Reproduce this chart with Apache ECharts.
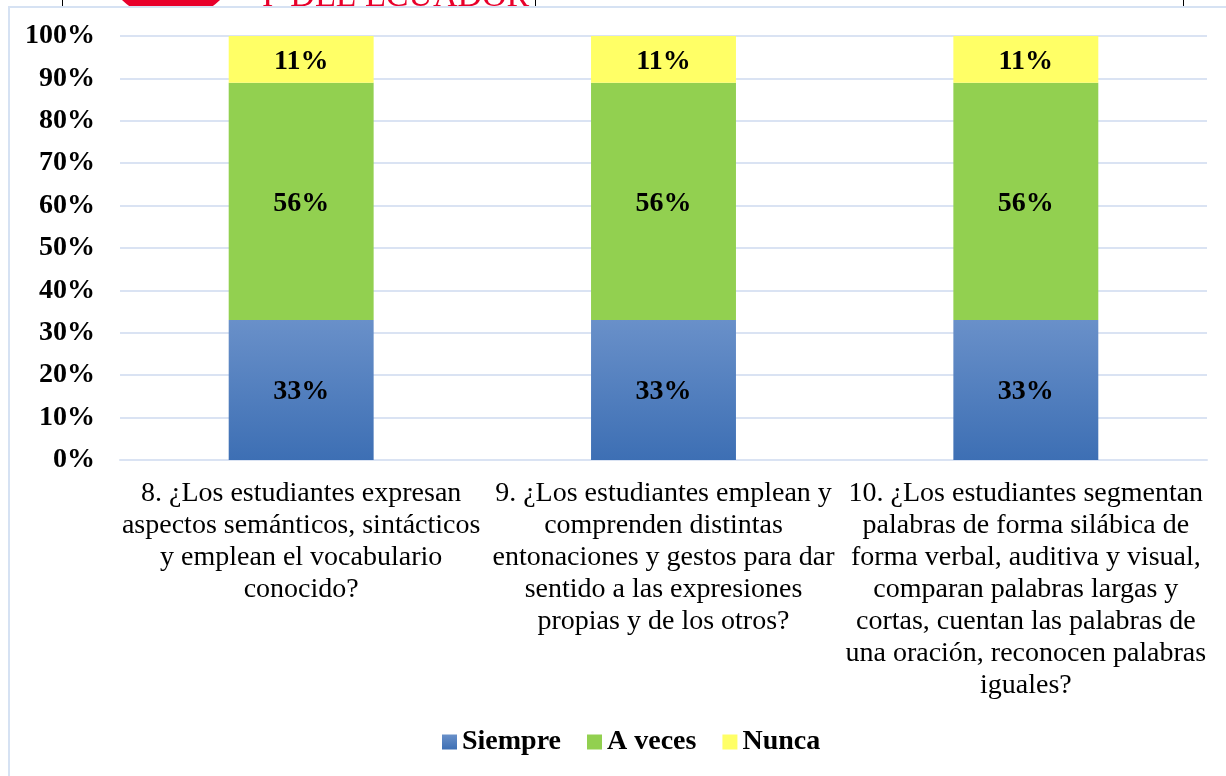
<!DOCTYPE html>
<html>
<head>
<meta charset="utf-8">
<script src="https://cdn.jsdelivr.net/npm/echarts@6/dist/echarts.min.js"></script>
<style>html,body{margin:0;padding:0;background:#fff;}#c{width:1226px;height:776px;}</style>
</head>
<body>
<div id="c"></div>
<script>
const categories = [
  "8. ¿Los estudiantes expresan\naspectos semánticos, sintácticos\ny emplean el vocabulario\nconocido?",
  "9. ¿Los estudiantes emplean y\ncomprenden distintas\nentonaciones y gestos para dar\nsentido a las expresiones\npropias y de los otros?",
  "10. ¿Los estudiantes segmentan\npalabras de forma silábica de\nforma verbal, auditiva y visual,\ncomparan palabras largas y\ncortas, cuentan las palabras de\nuna oración, reconocen palabras\niguales?"
];
const seriesNames = ["Siempre", "A veces", "Nunca"];
const siempre = [33, 33, 33];
const aVeces = [56, 56, 56];
const nunca = [11, 11, 11];
const yTicks = [0, 10, 20, 30, 40, 50, 60, 70, 80, 90, 100];

const FONT = '"Liberation Serif", "Times New Roman", serif';
const chart = echarts.init(document.getElementById('c'));
const blueGrad = new echarts.graphic.LinearGradient(0, 0, 0, 1, [
  {offset: 0, color: '#6990c9'},
  {offset: 1, color: '#3d6fb4'}
]);
const lbl = {
  show: true, position: 'inside', formatter: '{c}%',
  fontFamily: FONT, fontWeight: 'bold', fontSize: 28, color: '#000', offset: [0, 2]
};
const values = [siempre, aVeces, nunca];
const colors = [blueGrad, '#92d050', '#ffff66'];
const series = seriesNames.map((n, i) => ({
  name: n, type: 'bar', stack: 'total', barWidth: '40%',
  data: values[i], itemStyle: {color: colors[i]}, label: lbl, z: 3
}));

chart.setOption({
  animation: false,
  backgroundColor: '#fff',
  graphic: [
    {type: 'text', z: -10, left: 262, top: -20, style: {text: 'I  DEL ECUADOR', font: '34px ' + FONT, fill: '#e8002b'}},
    {type: 'circle', z: -10, shape: {cx: 171, cy: -50, r: 70}, style: {fill: '#e8002b'}},
    {type: 'line', z: -10, shape: {x1: 62.5, y1: 0, x2: 62.5, y2: 7}, style: {stroke: '#000', lineWidth: 1}},
    {type: 'line', z: -10, shape: {x1: 535.5, y1: 0, x2: 535.5, y2: 7}, style: {stroke: '#000', lineWidth: 1}},
    {type: 'line', z: -10, shape: {x1: 1183.5, y1: 0, x2: 1183.5, y2: 7}, style: {stroke: '#000', lineWidth: 1}},
    {type: 'rect', z: -5, shape: {x: 0, y: 7, width: 1226, height: 776}, style: {fill: '#fff'}},
    {type: 'rect', z: -4, shape: {x: 9, y: 7, width: 1240, height: 800}, style: {fill: 'none', stroke: '#d6e2f3', lineWidth: 2}}
  ],
  grid: {left: 120, right: 19, top: 36, bottom: 316, containLabel: false, outerBoundsMode: 'none'},
  legend: {
    data: seriesNames, top: 723, left: 437, icon: 'rect',
    itemWidth: 15, itemHeight: 15, itemGap: 26,
    textStyle: {fontFamily: FONT, fontWeight: 'bold', fontSize: 28, color: '#000'}
  },
  xAxis: {
    type: 'category', data: categories,
    axisTick: {show: false},
    axisLine: {lineStyle: {color: '#dae3f3', width: 2}},
    axisLabel: {interval: 0, fontFamily: FONT, fontSize: 28, lineHeight: 32, color: '#000', margin: 18, align: 'center'}
  },
  yAxis: {
    type: 'value', min: yTicks[0], max: yTicks[yTicks.length - 1], interval: 10,
    axisLine: {show: false}, axisTick: {show: false},
    splitLine: {lineStyle: {color: '#dae3f3', width: 2}},
    axisLabel: {formatter: '{value}%', fontFamily: FONT, fontWeight: 'bold', fontSize: 28, color: '#000', margin: 25}
  },
  series: series
});
</script>
</body>
</html>
